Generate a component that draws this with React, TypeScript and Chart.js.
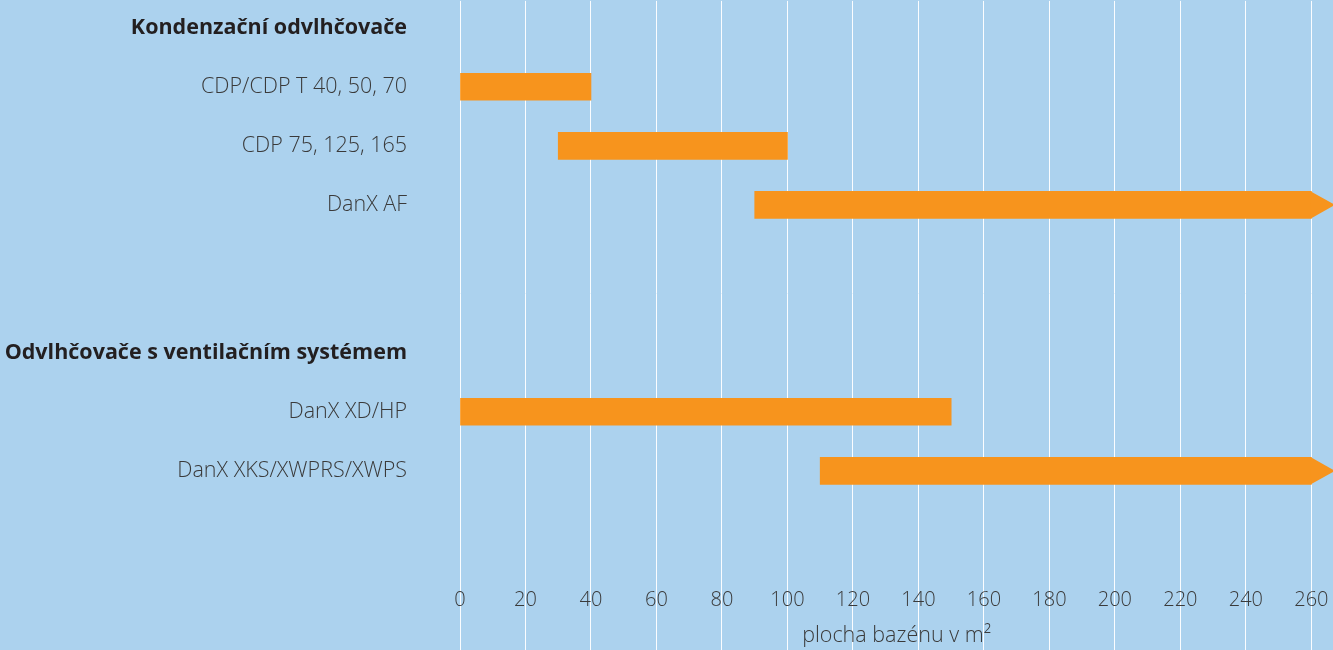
import React, { useEffect, useRef } from "react";
import { Chart, registerables } from "chart.js";

Chart.register(...registerables);

// Row slots of the category axis (blank strings are spacer rows)
const rowLabels = [
  "Kondenzační odvlhčovače",
  "",
  "CDP/CDP T 40, 50, 70",
  "",
  "CDP 75, 125, 165",
  "",
  "DanX AF",
  "",
  "",
  "",
  "",
  "Odvlhčovače s ventilačním systémem",
  "",
  "DanX XD/HP",
  "",
  "DanX XKS/XWPRS/XWPS",
  "",
  "",
  "",
];
const headerRows = [0, 11];

// Range of pool area (m²) per row; null = no bar
const rangeStart = [null, null, 0, null, 30, null, 90, null, null, null, null, null, null, 0, null, 110, null, null, null];
const rangeEnd = [null, null, 40, null, 100, null, 260, null, null, null, null, null, null, 150, null, 260, null, null, null];
const openEnded = [false, false, false, false, false, false, true, false, false, false, false, false, false, false, false, true, false, false, false];

const axisTitle = "plocha bazénu v m²";
const xMin = 0;
const xMax = 266.6;
const xStep = 20;

const BG = "#acd2ee";
const ORANGE = "#f7941d";
const FONT = "'Open Sans', 'Noto Sans', sans-serif";

const arrowPlugin = {
  id: "arrowTips",
  afterDatasetsDraw(chart: any) {
    const meta = chart.getDatasetMeta(0);
    const ctx = chart.ctx;
    const tipX = chart.chartArea.right + 2;
    ctx.save();
    ctx.fillStyle = ORANGE;
    meta.data.forEach((el: any, i: number) => {
      if (!openEnded[i] || rangeEnd[i] == null) return;
      const { x, y, height } = el.getProps(["x", "y", "height"], true);
      ctx.beginPath();
      ctx.moveTo(x - 0.5, y - height / 2);
      ctx.lineTo(tipX, y);
      ctx.lineTo(x - 0.5, y + height / 2);
      ctx.closePath();
      ctx.fill();
    });
    ctx.restore();
  },
};

export default function App() {
  const ref = useRef<HTMLCanvasElement | null>(null);

  useEffect(() => {
    document.body.style.margin = "0";
    const data = rangeStart.map((s, i) =>
      s == null || rangeEnd[i] == null ? null : [s, rangeEnd[i] as number]
    );
    const chart = new Chart(ref.current as HTMLCanvasElement, {
      type: "bar",
      data: {
        labels: rowLabels,
        datasets: [
          {
            data: data as any,
            backgroundColor: ORANGE,
            borderWidth: 0,
            barThickness: 27,
          },
        ],
      },
      plugins: [arrowPlugin],
      options: {
        indexAxis: "y",
        animation: false,
        responsive: true,
        maintainAspectRatio: false,
        layout: { padding: 0 },
        plugins: {
          legend: { display: false },
          tooltip: { enabled: false },
        },
        scales: {
          y: {
            type: "category",
            grid: { display: true, drawOnChartArea: false, drawTicks: true, tickLength: 53, color: "rgba(0,0,0,0)" },
            border: { display: false },
            afterFit: (scale: any) => {
              scale.width = 460;
            },
            ticks: {
              padding: 0,
              autoSkip: false,
              color: (c: any) => (headerRows.includes(c.index) ? "#231f20" : "#3a3a3a"),
              font: (c: any) =>
                headerRows.includes(c.index)
                  ? { family: FONT, size: 21.5, weight: "bold" }
                  : { family: FONT, size: 21.5, weight: 300 },
            },
          },
          x: {
            type: "linear",
            position: "bottom",
            min: xMin,
            max: xMax,
            border: { display: false },
            grid: { color: "rgba(255,255,255,0.95)", lineWidth: 1, tickLength: 76 },
            ticks: {
              stepSize: xStep,
              includeBounds: false,
              maxRotation: 0,
              padding: -62,
              color: "#3a3a3a",
              font: { family: FONT, size: 20, weight: 300 },
            },
            title: {
              display: true,
              text: axisTitle,
              color: "#3a3a3a",
              font: { family: FONT, size: 21.5, weight: 300 },
              padding: { top: 73, bottom: 1 },
            },
          },
          x2: {
            type: "linear",
            position: "top",
            min: xMin,
            max: xMax,
            border: { display: false },
            grid: { color: "rgba(255,255,255,0.95)", lineWidth: 1, tickLength: 12, drawOnChartArea: false },
            ticks: { stepSize: xStep, includeBounds: false, display: false },
          },
        },
      },
    });
    return () => chart.destroy();
  }, []);

  return (
    <div style={{ width: 1333, height: 650, background: BG, position: "relative" }}>
      <canvas ref={ref} />
    </div>
  );
}
